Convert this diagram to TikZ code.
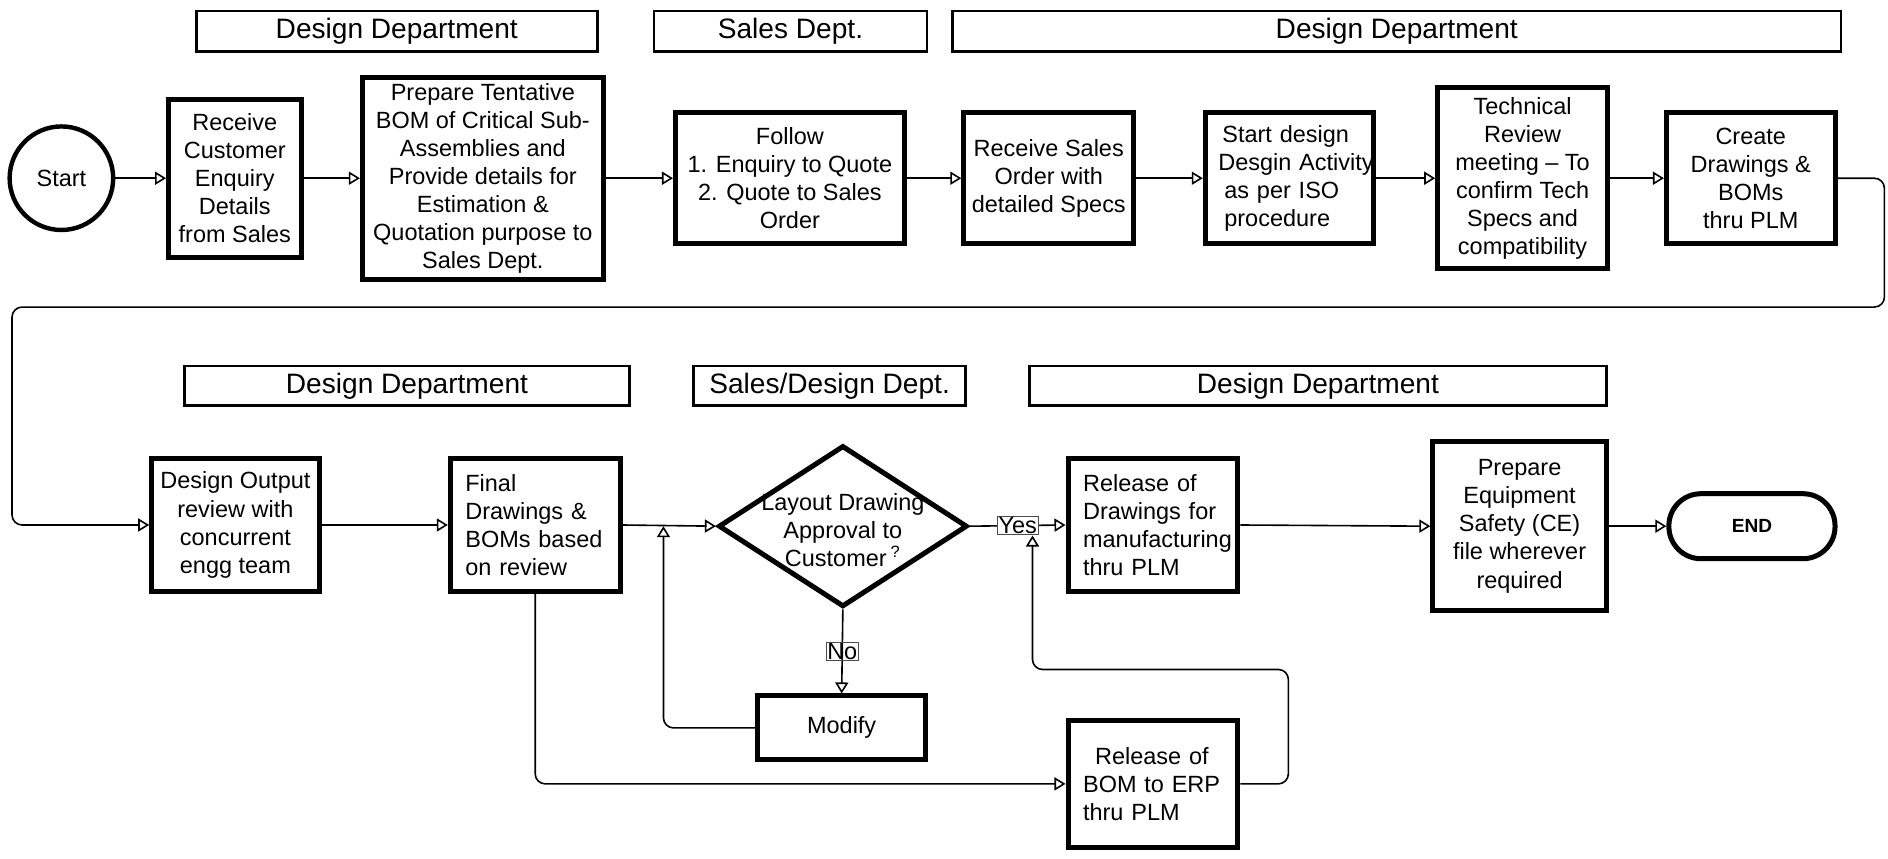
\documentclass[tikz,border=0pt]{standalone}
\usepackage{fontspec}
\setmainfont{Liberation Sans}
\usetikzlibrary{shapes.geometric,arrows.meta}
\newcommand\boxfont{\fontsize{11.7}{14}\selectfont}
\newcommand\headfont{\fontsize{14}{16}\selectfont}

\begin{document}
\begin{tikzpicture}[x=0.6pt, y=-0.6pt, font=\boxfont,
  box/.style={draw, line width=2.5pt, align=center, inner sep=1pt},
  leftbox/.style={box, align=left, text width=69.6pt, inner xsep=7.5pt},
  head/.style={draw, line width=1.3pt, font=\headfont, minimum height=20.4pt, inner sep=0pt},
  flow/.style={line width=0.8pt, -{Triangle[open, length=5.5pt, width=6.5pt]}},
  lbl/.style={draw=black!70, line width=0.5pt, fill=white, inner sep=0.6pt}]
  \useasboundingbox (0,0) rectangle (1568,713);

  \node[head, minimum width=199.8pt] (h1) at (329.5,26) {Design Department};
  \node[head, minimum width=136.2pt] (h2) at (656.5,26) {Sales Dept.};
  \node[head, minimum width=442.8pt] (h3) at (1160,26) {Design Department};
  \node[head, minimum width=222pt, minimum height=19.8pt] (h4) at (338,320.5) {Design Department};
  \node[head, minimum width=135.6pt, minimum height=19.8pt] (h5) at (689,320.5) {Sales/Design Dept.};
  \node[head, minimum width=287.4pt, minimum height=19.8pt] (h6) at (1094.5,320.5) {Design Department};

  \node[draw, circle, line width=2.2pt, minimum size=51.6pt, inner sep=0pt] (start) at (51,148) {Start};
  \node[box, minimum width=66pt, minimum height=78.6pt] (rcv) at (195,148)
    {Receive\\Customer\\Enquiry\\Details\\from Sales};
  \node[box, minimum width=120pt, minimum height=100.8pt] (prep) at (401,148)
    {Prepare Tentative\\BOM of Critical Sub-\\Assemblies and\\Provide details for\\Estimation \&\\Quotation purpose to\\Sales Dept.};
  \node[box, minimum width=114pt, minimum height=65.4pt] (follow) at (656,148)
    {Follow\\1. Enquiry to Quote\\2. Quote to Sales\\Order};
  \node[box, minimum width=84.6pt, minimum height=65.4pt] (rso) at (871,148)
    {Receive Sales\\Order with\\detailed Specs};
  \node[leftbox, text width=71pt, inner xsep=6.5pt, minimum width=84pt, minimum height=65.4pt] (sdes) at (1071,148)
    {\hspace*{2pt}Start design\\\mbox{Desgin Activity}\\\hspace*{3pt}as per ISO\\\hspace*{3pt}procedure};
  \node[box, minimum width=84.6pt, minimum height=90pt] (tech) at (1264.5,148)
    {Technical\\Review\\meeting -- To\\confirm Tech\\Specs and\\compatibility};
  \node[box, minimum width=84pt, minimum height=65.4pt] (cdraw) at (1454,148)
    {Create\\Drawings \&\\BOMs\\thru PLM};

  \node[box, minimum width=83.4pt, minimum height=66pt] (dout) at (195.5,436)
    {Design Output\\review with\\concurrent\\engg team};
  \node[leftbox, minimum width=84.6pt, minimum height=66pt] (fin) at (444.5,436)
    {Final\\Drawings \&\\BOMs based\\on review};
  \node[draw, diamond, line width=2.5pt, minimum width=124pt, minimum height=80.4pt, inner sep=0pt,
    label={[align=center, yshift=-2pt]center:{Layout Drawing\\Approval to\\Customer\,\textsuperscript{?}}}] (dec) at (700,437) {};
  \node[leftbox, minimum width=84.6pt, minimum height=66pt] (rdr) at (957.5,436)
    {Release of\\Drawings for\\manufacturing\\thru PLM};
  \node[box, minimum width=86.4pt, minimum height=84pt] (pce) at (1262,437)
    {Prepare\\Equipment\\Safety (CE)\\file wherever\\required};
  \node[box, rounded corners=16pt, minimum width=82.8pt, minimum height=32.4pt,
    font=\fontsize{9.5}{11}\selectfont\bfseries] (finish) at (1455,437) {END};
  \node[box, minimum width=84pt, minimum height=31.8pt] (mod) at (699,604.5) {Modify};
  \node[leftbox, minimum width=84.6pt, minimum height=63.6pt] (rbom) at (957.5,651)
    {\hspace*{6pt}Release of\\BOM to ERP\\thru PLM};

  \draw[flow] (start.east) -- (rcv.west);
  \draw[flow] (rcv.east) -- (prep.west);
  \draw[flow] (prep.east) -- (follow.west);
  \draw[flow] (follow.east) -- (rso.west);
  \draw[flow] (rso.east) -- (sdes.west);
  \draw[flow] (sdes.east) -- (tech.west);
  \draw[flow] (tech.east) -- (cdraw.west);
  \draw[flow, rounded corners=5pt] (cdraw.east) -| (1565,255) -- (10,255) |- (dout.west);

  \draw[flow] (dout.east) -- (fin.west);
  \draw[flow] (fin.east) -- (dec.west);
  \draw[flow] (dec.east) -- node[lbl] (yes) {Yes} (rdr.west);
  \draw[flow] (rdr.east) -- (pce.west);
  \draw[flow] (pce.east) -- (finish.west);
  \draw[flow] (dec.south) -- node[lbl, fill=none] (no) {No} (mod.north);

  \coordinate (mj) at (551,437);
  \draw[flow, rounded corners=5pt] (mod.west) -| (mj);
  \draw[flow, rounded corners=5pt] (fin.south) |- (rbom.west);
  \draw[flow, rounded corners=5pt] (rbom.east) -| (1070,556) -| ([xshift=-3pt]yes.south east);
\end{tikzpicture}
\end{document}
